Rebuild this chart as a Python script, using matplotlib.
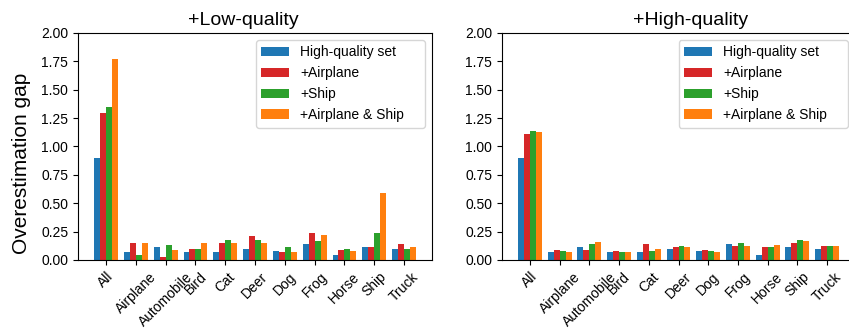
import numpy as np
import matplotlib
matplotlib.use('Agg')
from matplotlib import pyplot as plt

plt.rcParams['font.family'] = ['Liberation Sans', 'DejaVu Sans']

categories = ['All', 'Airplane', 'Automobile', 'Bird', 'Cat', 'Deer',
              'Dog', 'Frog', 'Horse', 'Ship', 'Truck']
series_names = ['High-quality set', '+Airplane', '+Ship', '+Airplane & Ship    ']
colors = ['#1f77b4', '#d62728', '#2ca02c', '#ff7f0e']

# overestimation gap per class, low-quality data added
low_hq = [0.90, 0.07, 0.11, 0.07, 0.07, 0.10, 0.08, 0.14, 0.04, 0.11, 0.10]
low_air = [1.29, 0.15, 0.03, 0.10, 0.15, 0.21, 0.07, 0.24, 0.09, 0.11, 0.14]
low_ship = [1.35, 0.04, 0.13, 0.10, 0.18, 0.18, 0.11, 0.17, 0.10, 0.24, 0.10]
low_both = [1.77, 0.15, 0.09, 0.15, 0.15, 0.15, 0.07, 0.22, 0.08, 0.59, 0.11]

# overestimation gap per class, high-quality data added
high_hq = [0.90, 0.07, 0.11, 0.07, 0.07, 0.10, 0.08, 0.14, 0.04, 0.11, 0.10]
high_air = [1.11, 0.09, 0.09, 0.08, 0.14, 0.11, 0.09, 0.12, 0.11, 0.15, 0.12]
high_ship = [1.14, 0.08, 0.14, 0.07, 0.08, 0.12, 0.08, 0.15, 0.11, 0.18, 0.12]
high_both = [1.13, 0.07, 0.16, 0.07, 0.10, 0.11, 0.07, 0.12, 0.13, 0.17, 0.12]

fig = plt.figure(figsize=(8.49, 3.34), dpi=100)
ax1 = fig.add_axes([0.0919, 0.2216, 0.417, 0.680])
ax2 = fig.add_axes([0.5913, 0.2216, 0.4158, 0.680])

x = np.arange(len(categories))
width = 0.2
offsets = [-0.3, -0.1, 0.1, 0.3]


def draw(ax, data, title, title_x):
    for vals, off, c, name in zip(data, offsets, colors, series_names):
        ax.bar(x + off, vals, width, color=c, label=name)
    ax.set_ylim(0, 2.0)
    ax.set_yticks(np.arange(0, 2.01, 0.25))
    ax.set_xticks(x)
    ax.set_xticklabels(categories, rotation=45, fontsize=10)
    ax.tick_params(axis='y', labelsize=10)
    ax.set_title(title, fontsize=14, x=title_x)
    ax.legend(loc='upper right', fontsize=10)


draw(ax1, [low_hq, low_air, low_ship, low_both], '+Low-quality', 0.466)
draw(ax2, [high_hq, high_air, high_ship, high_both], '+High-quality', 0.533)
ax1.set_ylabel('Overestimation gap', fontsize=15)
ax1.yaxis.set_label_coords(-0.133, 0.427)

plt.savefig('out.png', dpi=100)
